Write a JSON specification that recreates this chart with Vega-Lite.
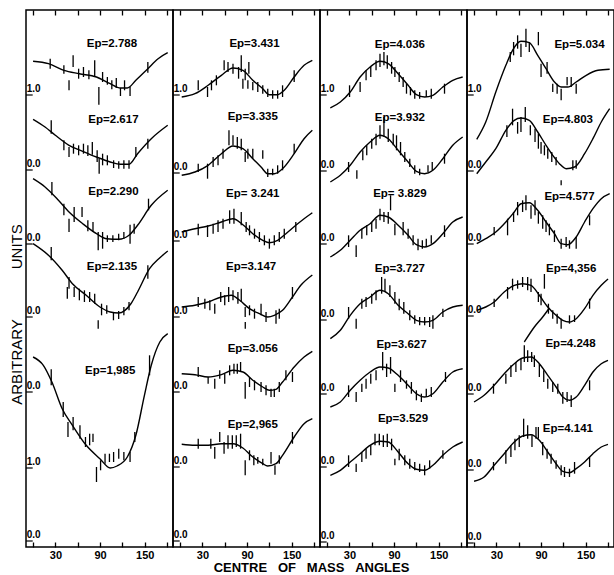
{
"$schema":"https://vega.github.io/schema/vega-lite/v6.json",
"padding":{"left":8,"top":8,"right":0,"bottom":0},
"spacing":0,
"bounds":"flush",
"background":"white",
"title":{"text":"CENTRE\u00a0\u00a0\u00a0OF\u00a0\u00a0\u00a0MASS\u00a0\u00a0\u00a0ANGLES","orient":"bottom","anchor":"middle","fontSize":13,"fontWeight":"bold","font":"Liberation Sans","offset":1,"color":"black"},
"datasets":{
"curves":[
{"p":1,"c":"2.788","x":0,"y":485.7},{"p":1,"c":"2.788","x":20.7,"y":483.3},{"p":1,"c":"2.788","x":41.4,"y":476.7},{"p":1,"c":"2.788","x":62.1,"y":473.3},{"p":1,"c":"2.788","x":85.2,"y":470},{"p":1,"c":"2.788","x":103.6,"y":463.3},{"p":1,"c":"2.788","x":117.4,"y":459},{"p":1,"c":"2.788","x":126.6,"y":459},{"p":1,"c":"2.788","x":138.1,"y":466.7},{"p":1,"c":"2.788","x":154.2,"y":478.3},{"p":1,"c":"2.788","x":168,"y":488.3},{"p":1,"c":"2.788","x":180.9,"y":494.3},
{"p":1,"c":"2.617","x":0,"y":427.7},{"p":1,"c":"2.617","x":16.1,"y":420},{"p":1,"c":"2.617","x":29.9,"y":411.7},{"p":1,"c":"2.617","x":48.3,"y":401.7},{"p":1,"c":"2.617","x":66.7,"y":395.7},{"p":1,"c":"2.617","x":85.2,"y":390},{"p":1,"c":"2.617","x":103.6,"y":385},{"p":1,"c":"2.617","x":117.4,"y":382.7},{"p":1,"c":"2.617","x":128.9,"y":382.7},{"p":1,"c":"2.617","x":140.4,"y":393.3},{"p":1,"c":"2.617","x":158.8,"y":408.3},{"p":1,"c":"2.617","x":180.9,"y":421.7},
{"p":1,"c":"2.290","x":0,"y":368.3},{"p":1,"c":"2.290","x":16.1,"y":360},{"p":1,"c":"2.290","x":32.2,"y":348.3},{"p":1,"c":"2.290","x":48.3,"y":335},{"p":1,"c":"2.290","x":66.7,"y":323.3},{"p":1,"c":"2.290","x":85.2,"y":313.3},{"p":1,"c":"2.290","x":99,"y":308.3},{"p":1,"c":"2.290","x":115.1,"y":307.7},{"p":1,"c":"2.290","x":128.9,"y":311.7},{"p":1,"c":"2.290","x":140.4,"y":321.7},{"p":1,"c":"2.290","x":158.8,"y":341.7},{"p":1,"c":"2.290","x":180.9,"y":356.7},
{"p":1,"c":"2.135","x":0,"y":303.3},{"p":1,"c":"2.135","x":20.7,"y":291.7},{"p":1,"c":"2.135","x":39.1,"y":276.7},{"p":1,"c":"2.135","x":52.9,"y":263.3},{"p":1,"c":"2.135","x":71.4,"y":251.7},{"p":1,"c":"2.135","x":89.8,"y":240},{"p":1,"c":"2.135","x":103.6,"y":235},{"p":1,"c":"2.135","x":115.1,"y":234},{"p":1,"c":"2.135","x":131.2,"y":243},{"p":1,"c":"2.135","x":140.4,"y":255},{"p":1,"c":"2.135","x":156.5,"y":278.3},{"p":1,"c":"2.135","x":170,"y":289},{"p":1,"c":"2.135","x":181,"y":296},
{"p":1,"c":"1.985","x":0,"y":190},{"p":1,"c":"1.985","x":13.8,"y":181.7},{"p":1,"c":"1.985","x":25.3,"y":165},{"p":1,"c":"1.985","x":39.1,"y":138.3},{"p":1,"c":"1.985","x":52.9,"y":121.7},{"p":1,"c":"1.985","x":71.4,"y":101.7},{"p":1,"c":"1.985","x":89.8,"y":88.3},{"p":1,"c":"1.985","x":103.6,"y":79},{"p":1,"c":"1.985","x":112.8,"y":81},{"p":1,"c":"1.985","x":126.6,"y":90},{"p":1,"c":"1.985","x":138.1,"y":111.7},{"p":1,"c":"1.985","x":149.6,"y":151.7},{"p":1,"c":"1.985","x":158.8,"y":181.7},{"p":1,"c":"1.985","x":170.3,"y":205},{"p":1,"c":"1.985","x":180.9,"y":213.3},
{"p":2,"c":"3.431","x":2.2,"y":450},{"p":2,"c":"3.431","x":20,"y":453.3},{"p":2,"c":"3.431","x":37.7,"y":461.7},{"p":2,"c":"3.431","x":55.5,"y":471.7},{"p":2,"c":"3.431","x":71.1,"y":479},{"p":2,"c":"3.431","x":84.4,"y":476.7},{"p":2,"c":"3.431","x":97.7,"y":466.7},{"p":2,"c":"3.431","x":111.1,"y":458.3},{"p":2,"c":"3.431","x":120,"y":452.3},{"p":2,"c":"3.431","x":131,"y":452.3},{"p":2,"c":"3.431","x":140,"y":456.7},{"p":2,"c":"3.431","x":153.3,"y":470},{"p":2,"c":"3.431","x":166.6,"y":481.7},{"p":2,"c":"3.431","x":177.7,"y":486.7},
{"p":2,"c":"3.335","x":2.2,"y":371.7},{"p":2,"c":"3.335","x":20,"y":375},{"p":2,"c":"3.335","x":37.7,"y":381.7},{"p":2,"c":"3.335","x":55.5,"y":393.3},{"p":2,"c":"3.335","x":71.1,"y":401},{"p":2,"c":"3.335","x":84.4,"y":398.3},{"p":2,"c":"3.335","x":97.7,"y":388.3},{"p":2,"c":"3.335","x":108.8,"y":380},{"p":2,"c":"3.335","x":117.7,"y":373.3},{"p":2,"c":"3.335","x":126.6,"y":373.3},{"p":2,"c":"3.335","x":137.7,"y":378.3},{"p":2,"c":"3.335","x":153.3,"y":393.3},{"p":2,"c":"3.335","x":166.6,"y":408.3},{"p":2,"c":"3.335","x":177.7,"y":416.7},
{"p":2,"c":"3.241","x":2.2,"y":315},{"p":2,"c":"3.241","x":20,"y":318.3},{"p":2,"c":"3.241","x":37.7,"y":321},{"p":2,"c":"3.241","x":55.5,"y":325},{"p":2,"c":"3.241","x":71.1,"y":328.3},{"p":2,"c":"3.241","x":84.4,"y":322.3},{"p":2,"c":"3.241","x":97.7,"y":313.3},{"p":2,"c":"3.241","x":111.1,"y":306.7},{"p":2,"c":"3.241","x":120,"y":304.3},{"p":2,"c":"3.241","x":131.1,"y":306.7},{"p":2,"c":"3.241","x":142.2,"y":313.3},{"p":2,"c":"3.241","x":155.5,"y":321.7},{"p":2,"c":"3.241","x":166.6,"y":328.3},{"p":2,"c":"3.241","x":177.7,"y":334.3},
{"p":2,"c":"3.147","x":2.2,"y":240},{"p":2,"c":"3.147","x":20,"y":241.7},{"p":2,"c":"3.147","x":37.7,"y":245},{"p":2,"c":"3.147","x":55.5,"y":250},{"p":2,"c":"3.147","x":68.8,"y":251.7},{"p":2,"c":"3.147","x":80,"y":246.7},{"p":2,"c":"3.147","x":93.3,"y":238.3},{"p":2,"c":"3.147","x":106.6,"y":233.3},{"p":2,"c":"3.147","x":117.7,"y":230},{"p":2,"c":"3.147","x":126.6,"y":231.7},{"p":2,"c":"3.147","x":137.7,"y":236.7},{"p":2,"c":"3.147","x":151,"y":250},{"p":2,"c":"3.147","x":162.2,"y":261.7},{"p":2,"c":"3.147","x":177.7,"y":272},
{"p":2,"c":"3.056","x":2.2,"y":173.3},{"p":2,"c":"3.056","x":20,"y":172.3},{"p":2,"c":"3.056","x":37.7,"y":170},{"p":2,"c":"3.056","x":55.5,"y":172.3},{"p":2,"c":"3.056","x":71.1,"y":176.7},{"p":2,"c":"3.056","x":84.4,"y":175},{"p":2,"c":"3.056","x":97.7,"y":166.7},{"p":2,"c":"3.056","x":111.1,"y":160},{"p":2,"c":"3.056","x":120,"y":156.7},{"p":2,"c":"3.056","x":128.9,"y":157.7},{"p":2,"c":"3.056","x":137.7,"y":165},{"p":2,"c":"3.056","x":153.3,"y":180},{"p":2,"c":"3.056","x":166.6,"y":190},{"p":2,"c":"3.056","x":177.7,"y":195.7},
{"p":2,"c":"2.965","x":2.2,"y":102.7},{"p":2,"c":"2.965","x":20,"y":101.7},{"p":2,"c":"2.965","x":37.7,"y":101.7},{"p":2,"c":"2.965","x":55.5,"y":103.3},{"p":2,"c":"2.965","x":71.1,"y":103.3},{"p":2,"c":"2.965","x":84.4,"y":99},{"p":2,"c":"2.965","x":97.7,"y":90},{"p":2,"c":"2.965","x":111.1,"y":83.3},{"p":2,"c":"2.965","x":117.7,"y":81},{"p":2,"c":"2.965","x":128.9,"y":83.3},{"p":2,"c":"2.965","x":137.7,"y":91.7},{"p":2,"c":"2.965","x":153.3,"y":110},{"p":2,"c":"2.965","x":166.6,"y":123.3},{"p":2,"c":"2.965","x":177.7,"y":128.3},
{"p":3,"c":"4.036","x":4.4,"y":439},{"p":3,"c":"4.036","x":17.8,"y":445},{"p":3,"c":"4.036","x":31.1,"y":455},{"p":3,"c":"4.036","x":44.4,"y":470},{"p":3,"c":"4.036","x":57.8,"y":480},{"p":3,"c":"4.036","x":71.1,"y":485.7},{"p":3,"c":"4.036","x":82.2,"y":483.3},{"p":3,"c":"4.036","x":95.5,"y":473.3},{"p":3,"c":"4.036","x":108.9,"y":461.7},{"p":3,"c":"4.036","x":120,"y":452.3},{"p":3,"c":"4.036","x":131.1,"y":450},{"p":3,"c":"4.036","x":142.2,"y":451.7},{"p":3,"c":"4.036","x":155.5,"y":460},{"p":3,"c":"4.036","x":168.9,"y":466.7},{"p":3,"c":"4.036","x":182.2,"y":470},
{"p":3,"c":"3.932","x":4.4,"y":365},{"p":3,"c":"3.932","x":17.8,"y":371.7},{"p":3,"c":"3.932","x":31.1,"y":381.7},{"p":3,"c":"3.932","x":44.4,"y":395},{"p":3,"c":"3.932","x":57.8,"y":405},{"p":3,"c":"3.932","x":71.1,"y":411.7},{"p":3,"c":"3.932","x":82.2,"y":408.3},{"p":3,"c":"3.932","x":95.5,"y":396.7},{"p":3,"c":"3.932","x":108.9,"y":385},{"p":3,"c":"3.932","x":120,"y":375.7},{"p":3,"c":"3.932","x":131.1,"y":373.3},{"p":3,"c":"3.932","x":142.2,"y":376.7},{"p":3,"c":"3.932","x":155.5,"y":388.3},{"p":3,"c":"3.932","x":168.9,"y":401.7},{"p":3,"c":"3.932","x":182.2,"y":410},
{"p":3,"c":"3.829","x":4.4,"y":290},{"p":3,"c":"3.829","x":17.8,"y":296.7},{"p":3,"c":"3.829","x":31.1,"y":306.7},{"p":3,"c":"3.829","x":44.4,"y":316.7},{"p":3,"c":"3.829","x":57.8,"y":323.3},{"p":3,"c":"3.829","x":71.1,"y":331.7},{"p":3,"c":"3.829","x":82.2,"y":330},{"p":3,"c":"3.829","x":95.5,"y":321.7},{"p":3,"c":"3.829","x":108.9,"y":311.7},{"p":3,"c":"3.829","x":120,"y":302.3},{"p":3,"c":"3.829","x":131.1,"y":300},{"p":3,"c":"3.829","x":142.2,"y":303.3},{"p":3,"c":"3.829","x":155.5,"y":313.3},{"p":3,"c":"3.829","x":168.9,"y":325},{"p":3,"c":"3.829","x":182.2,"y":330},
{"p":3,"c":"3.727","x":4.4,"y":208.3},{"p":3,"c":"3.727","x":17.8,"y":216.7},{"p":3,"c":"3.727","x":31.1,"y":231.7},{"p":3,"c":"3.727","x":44.4,"y":243.3},{"p":3,"c":"3.727","x":57.8,"y":250},{"p":3,"c":"3.727","x":71.1,"y":256.7},{"p":3,"c":"3.727","x":82.2,"y":253.3},{"p":3,"c":"3.727","x":95.5,"y":241.7},{"p":3,"c":"3.727","x":108.9,"y":233.3},{"p":3,"c":"3.727","x":120,"y":226.7},{"p":3,"c":"3.727","x":131.1,"y":225},{"p":3,"c":"3.727","x":142.2,"y":226.7},{"p":3,"c":"3.727","x":155.5,"y":235},{"p":3,"c":"3.727","x":168.9,"y":240},{"p":3,"c":"3.727","x":182.2,"y":241.7},
{"p":3,"c":"3.627","x":4.4,"y":140},{"p":3,"c":"3.627","x":17.8,"y":145},{"p":3,"c":"3.627","x":31.1,"y":156.7},{"p":3,"c":"3.627","x":44.4,"y":166.7},{"p":3,"c":"3.627","x":57.8,"y":175},{"p":3,"c":"3.627","x":71.1,"y":180},{"p":3,"c":"3.627","x":82.2,"y":179},{"p":3,"c":"3.627","x":95.5,"y":171.7},{"p":3,"c":"3.627","x":108.9,"y":161.7},{"p":3,"c":"3.627","x":120,"y":153.3},{"p":3,"c":"3.627","x":131.1,"y":150},{"p":3,"c":"3.627","x":142.2,"y":153.3},{"p":3,"c":"3.627","x":155.5,"y":165},{"p":3,"c":"3.627","x":168.9,"y":175},{"p":3,"c":"3.627","x":182.2,"y":178.3},
{"p":3,"c":"3.529","x":4.4,"y":71.7},{"p":3,"c":"3.529","x":17.8,"y":76.7},{"p":3,"c":"3.529","x":31.1,"y":85},{"p":3,"c":"3.529","x":44.4,"y":93.3},{"p":3,"c":"3.529","x":57.8,"y":101.7},{"p":3,"c":"3.529","x":71.1,"y":105.7},{"p":3,"c":"3.529","x":82.2,"y":105},{"p":3,"c":"3.529","x":95.5,"y":95},{"p":3,"c":"3.529","x":108.9,"y":83.3},{"p":3,"c":"3.529","x":120,"y":77.7},{"p":3,"c":"3.529","x":131.1,"y":76.7},{"p":3,"c":"3.529","x":142.2,"y":81.7},{"p":3,"c":"3.529","x":155.5,"y":91.7},{"p":3,"c":"3.529","x":168.9,"y":100},{"p":3,"c":"3.529","x":182.2,"y":105},
{"p":4,"c":"5.034","x":3.6,"y":407.7},{"p":4,"c":"5.034","x":15.7,"y":425},{"p":4,"c":"5.034","x":29.2,"y":455},{"p":4,"c":"5.034","x":42.7,"y":481.7},{"p":4,"c":"5.034","x":51.7,"y":496.7},{"p":4,"c":"5.034","x":63,"y":505.7},{"p":4,"c":"5.034","x":74.2,"y":504.3},{"p":4,"c":"5.034","x":85.5,"y":491.7},{"p":4,"c":"5.034","x":96.7,"y":478.3},{"p":4,"c":"5.034","x":108,"y":465},{"p":4,"c":"5.034","x":117,"y":460},{"p":4,"c":"5.034","x":126,"y":460},{"p":4,"c":"5.034","x":137.2,"y":465},{"p":4,"c":"5.034","x":150.7,"y":471.7},{"p":4,"c":"5.034","x":166.5,"y":476.7},{"p":4,"c":"5.034","x":182.2,"y":477.7},
{"p":4,"c":"4.803","x":3.6,"y":373.3},{"p":4,"c":"4.803","x":15.7,"y":385},{"p":4,"c":"4.803","x":29.2,"y":398.3},{"p":4,"c":"4.803","x":42.7,"y":416.7},{"p":4,"c":"4.803","x":54,"y":426.7},{"p":4,"c":"4.803","x":63,"y":429},{"p":4,"c":"4.803","x":74.2,"y":426.7},{"p":4,"c":"4.803","x":85.5,"y":415},{"p":4,"c":"4.803","x":96.7,"y":401.7},{"p":4,"c":"4.803","x":105.7,"y":391.7},{"p":4,"c":"4.803","x":114.7,"y":383.3},{"p":4,"c":"4.803","x":123.7,"y":378.3},{"p":4,"c":"4.803","x":135,"y":380},{"p":4,"c":"4.803","x":148.5,"y":393.3},{"p":4,"c":"4.803","x":159.7,"y":408.3},{"p":4,"c":"4.803","x":170.9,"y":425},{"p":4,"c":"4.803","x":182.2,"y":438.3},
{"p":4,"c":"4.577","x":3.6,"y":303.3},{"p":4,"c":"4.577","x":15.7,"y":308.3},{"p":4,"c":"4.577","x":29.2,"y":315},{"p":4,"c":"4.577","x":42.7,"y":325},{"p":4,"c":"4.577","x":54,"y":335},{"p":4,"c":"4.577","x":63,"y":343.3},{"p":4,"c":"4.577","x":74.2,"y":344.3},{"p":4,"c":"4.577","x":85.5,"y":336.7},{"p":4,"c":"4.577","x":96.7,"y":325},{"p":4,"c":"4.577","x":108,"y":313.3},{"p":4,"c":"4.577","x":117,"y":303.3},{"p":4,"c":"4.577","x":126,"y":302.3},{"p":4,"c":"4.577","x":137.2,"y":310},{"p":4,"c":"4.577","x":148.5,"y":325},{"p":4,"c":"4.577","x":159.7,"y":338.3},{"p":4,"c":"4.577","x":170.9,"y":348.3},{"p":4,"c":"4.577","x":182.2,"y":353.3},
{"p":4,"c":"4.356","x":3.6,"y":236.7},{"p":4,"c":"4.356","x":15.7,"y":240},{"p":4,"c":"4.356","x":27,"y":245},{"p":4,"c":"4.356","x":40.5,"y":255},{"p":4,"c":"4.356","x":54,"y":261.7},{"p":4,"c":"4.356","x":65.2,"y":263.3},{"p":4,"c":"4.356","x":76.5,"y":261.7},{"p":4,"c":"4.356","x":87.7,"y":251.7},{"p":4,"c":"4.356","x":99,"y":240},{"p":4,"c":"4.356","x":110.2,"y":231.7},{"p":4,"c":"4.356","x":119.2,"y":226.7},{"p":4,"c":"4.356","x":128.2,"y":225},{"p":4,"c":"4.356","x":137.2,"y":228.3},{"p":4,"c":"4.356","x":148.5,"y":238.3},{"p":4,"c":"4.356","x":159.7,"y":251.7},{"p":4,"c":"4.356","x":170.9,"y":261.7},{"p":4,"c":"4.356","x":180,"y":268},
{"p":4,"c":"4.356b","x":67.5,"y":205},{"p":4,"c":"4.356b","x":81,"y":220},{"p":4,"c":"4.356b","x":92.2,"y":230},{"p":4,"c":"4.356b","x":101.2,"y":239},
{"p":4,"c":"4.248","x":0,"y":145},{"p":4,"c":"4.248","x":13.5,"y":151.7},{"p":4,"c":"4.248","x":27,"y":161.7},{"p":4,"c":"4.248","x":40.5,"y":173.3},{"p":4,"c":"4.248","x":54,"y":183.3},{"p":4,"c":"4.248","x":65.2,"y":189},{"p":4,"c":"4.248","x":76.5,"y":190},{"p":4,"c":"4.248","x":87.7,"y":183.3},{"p":4,"c":"4.248","x":99,"y":171.7},{"p":4,"c":"4.248","x":110.2,"y":160},{"p":4,"c":"4.248","x":119.2,"y":150},{"p":4,"c":"4.248","x":128.2,"y":146.7},{"p":4,"c":"4.248","x":137.2,"y":150},{"p":4,"c":"4.248","x":148.5,"y":161.7},{"p":4,"c":"4.248","x":159.7,"y":175},{"p":4,"c":"4.248","x":170.9,"y":183.3},{"p":4,"c":"4.248","x":179.9,"y":186.7},
{"p":4,"c":"4.141","x":0,"y":65.7},{"p":4,"c":"4.141","x":13.5,"y":70},{"p":4,"c":"4.141","x":27,"y":81.7},{"p":4,"c":"4.141","x":40.5,"y":93.3},{"p":4,"c":"4.141","x":54,"y":105},{"p":4,"c":"4.141","x":65.2,"y":111},{"p":4,"c":"4.141","x":76.5,"y":112.3},{"p":4,"c":"4.141","x":87.7,"y":106.7},{"p":4,"c":"4.141","x":99,"y":95},{"p":4,"c":"4.141","x":110.2,"y":83.3},{"p":4,"c":"4.141","x":119.2,"y":75.7},{"p":4,"c":"4.141","x":128.2,"y":74.3},{"p":4,"c":"4.141","x":137.2,"y":78.3},{"p":4,"c":"4.141","x":148.5,"y":85},{"p":4,"c":"4.141","x":159.7,"y":93.3},{"p":4,"c":"4.141","x":170.9,"y":100},{"p":4,"c":"4.141","x":179.9,"y":102.7}
],
"bars":[
{"p":1,"x":23,"lo":478.3,"hi":488.3},{"p":1,"x":41.4,"lo":473.3,"hi":481.7},{"p":1,"x":48.3,"lo":456.7,"hi":466.7},{"p":1,"x":53.8,"lo":480,"hi":491.7},{"p":1,"x":61.2,"lo":468.3,"hi":478.3},{"p":1,"x":67.7,"lo":470,"hi":480},{"p":1,"x":75,"lo":467.7,"hi":476.7},{"p":1,"x":82.8,"lo":471,"hi":486.7},{"p":1,"x":88.4,"lo":442.3,"hi":460},{"p":1,"x":93.4,"lo":465,"hi":475},{"p":1,"x":99.8,"lo":462.3,"hi":470},{"p":1,"x":105.8,"lo":457.7,"hi":466.7},{"p":1,"x":111.8,"lo":459,"hi":469},{"p":1,"x":117.4,"lo":451,"hi":459},{"p":1,"x":122.9,"lo":456.7,"hi":466.7},{"p":1,"x":130.3,"lo":451,"hi":460},{"p":1,"x":154.2,"lo":474.3,"hi":485},
{"p":1,"x":24.4,"lo":413.3,"hi":426.7},{"p":1,"x":41.4,"lo":396.7,"hi":406.7},{"p":1,"x":48.3,"lo":390,"hi":400},{"p":1,"x":54.3,"lo":393.3,"hi":403.3},{"p":1,"x":61.2,"lo":391.7,"hi":401.7},{"p":1,"x":67.7,"lo":393.3,"hi":403.3},{"p":1,"x":73.6,"lo":391,"hi":401.7},{"p":1,"x":79.6,"lo":392.3,"hi":405},{"p":1,"x":86.1,"lo":385,"hi":396.7},{"p":1,"x":88.8,"lo":373.3,"hi":388.3},{"p":1,"x":93.4,"lo":381.7,"hi":393.3},{"p":1,"x":99.8,"lo":381.7,"hi":391.7},{"p":1,"x":108.2,"lo":379,"hi":386.7},{"p":1,"x":115.1,"lo":378.3,"hi":385.7},{"p":1,"x":122,"lo":378.3,"hi":386.7},{"p":1,"x":128.9,"lo":378.3,"hi":386.7},{"p":1,"x":138.1,"lo":390,"hi":400},{"p":1,"x":154.2,"lo":398.3,"hi":408.3},
{"p":1,"x":25.3,"lo":351.7,"hi":365},{"p":1,"x":41.4,"lo":331.7,"hi":343.3},{"p":1,"x":48.3,"lo":315,"hi":328.3},{"p":1,"x":55.2,"lo":325,"hi":340},{"p":1,"x":65.8,"lo":330,"hi":340},{"p":1,"x":73.6,"lo":315.7,"hi":326.7},{"p":1,"x":80.5,"lo":315,"hi":325},{"p":1,"x":87.5,"lo":296.7,"hi":315},{"p":1,"x":93.4,"lo":298.3,"hi":315},{"p":1,"x":99.8,"lo":305,"hi":311.7},{"p":1,"x":107.2,"lo":305,"hi":311.7},{"p":1,"x":115,"lo":306.7,"hi":313.3},{"p":1,"x":122,"lo":308.3,"hi":315},{"p":1,"x":130.3,"lo":303.3,"hi":322.3},{"p":1,"x":135.8,"lo":313.3,"hi":323.3},{"p":1,"x":155.1,"lo":336.7,"hi":348.3},
{"p":1,"x":24.4,"lo":286.7,"hi":300},{"p":1,"x":46,"lo":248.3,"hi":260},{"p":1,"x":48.3,"lo":258.3,"hi":270},{"p":1,"x":55.2,"lo":250,"hi":260},{"p":1,"x":62.2,"lo":246.7,"hi":258.3},{"p":1,"x":69,"lo":245,"hi":256.7},{"p":1,"x":76,"lo":245,"hi":255},{"p":1,"x":82.8,"lo":243.3,"hi":253.3},{"p":1,"x":87.5,"lo":218.3,"hi":226.7},{"p":1,"x":92,"lo":231.7,"hi":243.3},{"p":1,"x":99,"lo":233.3,"hi":241.7},{"p":1,"x":108,"lo":226.7,"hi":235},{"p":1,"x":115,"lo":228,"hi":236},{"p":1,"x":122,"lo":231.7,"hi":240},{"p":1,"x":128.9,"lo":236.7,"hi":245},{"p":1,"x":154.2,"lo":268.3,"hi":281.7},
{"p":1,"x":24.4,"lo":161.7,"hi":177.7},{"p":1,"x":40.5,"lo":130,"hi":145},{"p":1,"x":46.9,"lo":110,"hi":125},{"p":1,"x":53.8,"lo":116.7,"hi":130},{"p":1,"x":63,"lo":108.3,"hi":121.7},{"p":1,"x":70.4,"lo":100,"hi":110},{"p":1,"x":76,"lo":101.7,"hi":113.3},{"p":1,"x":80.5,"lo":105,"hi":113.3},{"p":1,"x":85.2,"lo":65,"hi":80},{"p":1,"x":90.7,"lo":76.7,"hi":86.7},{"p":1,"x":96.7,"lo":83.3,"hi":93.3},{"p":1,"x":102.6,"lo":85,"hi":93.3},{"p":1,"x":108.2,"lo":85,"hi":95},{"p":1,"x":115.1,"lo":88.3,"hi":98.3},{"p":1,"x":122,"lo":86.7,"hi":95},{"p":1,"x":130.3,"lo":85,"hi":95},{"p":1,"x":136.7,"lo":105,"hi":115},{"p":1,"x":156.5,"lo":171.7,"hi":191.7},
{"p":2,"x":24.4,"lo":456.7,"hi":466.7},{"p":2,"x":36.9,"lo":450,"hi":460},{"p":2,"x":42.2,"lo":456.7,"hi":466.7},{"p":2,"x":48.8,"lo":461.7,"hi":471.7},{"p":2,"x":59.2,"lo":476.7,"hi":486.7},{"p":2,"x":64.4,"lo":475,"hi":485},{"p":2,"x":71.1,"lo":473.3,"hi":483.3},{"p":2,"x":78.6,"lo":468.3,"hi":480},{"p":2,"x":82.2,"lo":475,"hi":491.7},{"p":2,"x":84.4,"lo":458.3,"hi":468.3},{"p":2,"x":87.5,"lo":466.7,"hi":478.3},{"p":2,"x":91.1,"lo":458.3,"hi":466.7},{"p":2,"x":92.4,"lo":473.3,"hi":485},{"p":2,"x":97.7,"lo":456.7,"hi":465},{"p":2,"x":104.4,"lo":455,"hi":465},{"p":2,"x":111.1,"lo":453.3,"hi":461.7},{"p":2,"x":117.8,"lo":450,"hi":458.3},{"p":2,"x":124.4,"lo":448.3,"hi":456.7},{"p":2,"x":131.1,"lo":448.3,"hi":456.7},{"p":2,"x":137.7,"lo":450,"hi":461.7},{"p":2,"x":153.3,"lo":465,"hi":476.7},
{"p":2,"x":24.4,"lo":375,"hi":383.3},{"p":2,"x":36.9,"lo":368.3,"hi":383.3},{"p":2,"x":44.4,"lo":380,"hi":390},{"p":2,"x":51,"lo":381.7,"hi":391.7},{"p":2,"x":57.7,"lo":388.3,"hi":398.3},{"p":2,"x":65.7,"lo":401.7,"hi":416.7},{"p":2,"x":71.1,"lo":401.7,"hi":411.7},{"p":2,"x":76.9,"lo":398.3,"hi":410},{"p":2,"x":82.2,"lo":396.7,"hi":408.3},{"p":2,"x":87.5,"lo":385,"hi":395},{"p":2,"x":91.1,"lo":388.3,"hi":398.3},{"p":2,"x":97.7,"lo":388.3,"hi":398.3},{"p":2,"x":111.1,"lo":388.3,"hi":396.7},{"p":2,"x":117.8,"lo":370,"hi":378.3},{"p":2,"x":124.4,"lo":371.7,"hi":378.3},{"p":2,"x":131.1,"lo":373.3,"hi":381.7},{"p":2,"x":137.7,"lo":376.7,"hi":386.7},{"p":2,"x":153.3,"lo":393.3,"hi":403.3},
{"p":2,"x":24.4,"lo":311.7,"hi":323.3},{"p":2,"x":36.9,"lo":310,"hi":321.7},{"p":2,"x":44.4,"lo":313.3,"hi":323.3},{"p":2,"x":51,"lo":315,"hi":326.7},{"p":2,"x":57.7,"lo":318.3,"hi":328.3},{"p":2,"x":66.6,"lo":323.3,"hi":336.7},{"p":2,"x":72.4,"lo":323.3,"hi":338.3},{"p":2,"x":82.2,"lo":321.7,"hi":335},{"p":2,"x":88.8,"lo":315,"hi":325},{"p":2,"x":93.3,"lo":311.7,"hi":321.7},{"p":2,"x":100,"lo":308.3,"hi":318.3},{"p":2,"x":106.6,"lo":305,"hi":315},{"p":2,"x":113.3,"lo":301.7,"hi":311.7},{"p":2,"x":120,"lo":298.3,"hi":308.3},{"p":2,"x":126.6,"lo":301.7,"hi":311.7},{"p":2,"x":133.3,"lo":305,"hi":315},{"p":2,"x":140,"lo":308.3,"hi":318.3},{"p":2,"x":155.5,"lo":315,"hi":325},
{"p":2,"x":24.4,"lo":240,"hi":250},{"p":2,"x":33.3,"lo":238.3,"hi":248.3},{"p":2,"x":40,"lo":236.7,"hi":246.7},{"p":2,"x":46.6,"lo":233.3,"hi":243.3},{"p":2,"x":54.6,"lo":245,"hi":255},{"p":2,"x":60,"lo":241.7,"hi":251.7},{"p":2,"x":65.3,"lo":245,"hi":260},{"p":2,"x":71.1,"lo":246.7,"hi":256.7},{"p":2,"x":77.7,"lo":243.3,"hi":255},{"p":2,"x":82.2,"lo":245,"hi":258.3},{"p":2,"x":87.5,"lo":230,"hi":240},{"p":2,"x":87.6,"lo":218.3,"hi":225},{"p":2,"x":93.3,"lo":231.7,"hi":241.7},{"p":2,"x":100,"lo":228.3,"hi":238.3},{"p":2,"x":108.8,"lo":231.7,"hi":243.3},{"p":2,"x":115.5,"lo":225,"hi":235},{"p":2,"x":128.9,"lo":223.3,"hi":236.7},{"p":2,"x":133.3,"lo":228.3,"hi":238.3},{"p":2,"x":151,"lo":248.3,"hi":260},
{"p":2,"x":24.4,"lo":170,"hi":180},{"p":2,"x":37.7,"lo":163.3,"hi":170},{"p":2,"x":46.6,"lo":158.3,"hi":168.3},{"p":2,"x":53.3,"lo":168.3,"hi":176.7},{"p":2,"x":60,"lo":163.3,"hi":173.3},{"p":2,"x":66.6,"lo":171.7,"hi":181.7},{"p":2,"x":72.4,"lo":173.3,"hi":183.3},{"p":2,"x":76.9,"lo":173.3,"hi":183.3},{"p":2,"x":81.3,"lo":175,"hi":185},{"p":2,"x":87.5,"lo":148.3,"hi":165},{"p":2,"x":93.3,"lo":160,"hi":170},{"p":2,"x":100,"lo":156.7,"hi":166.7},{"p":2,"x":108.8,"lo":155,"hi":165},{"p":2,"x":115.5,"lo":151.7,"hi":161.7},{"p":2,"x":122.2,"lo":150,"hi":158.3},{"p":2,"x":126.6,"lo":150,"hi":158.3},{"p":2,"x":133.3,"lo":155,"hi":165},{"p":2,"x":142.2,"lo":166.7,"hi":176.7},{"p":2,"x":151,"lo":165,"hi":175},
{"p":2,"x":24.4,"lo":98.3,"hi":108.3},{"p":2,"x":41.3,"lo":98.3,"hi":108.3},{"p":2,"x":46.6,"lo":88.3,"hi":100},{"p":2,"x":53.3,"lo":105,"hi":115},{"p":2,"x":59.1,"lo":93.3,"hi":105},{"p":2,"x":64.4,"lo":98.3,"hi":111.7},{"p":2,"x":70.2,"lo":98.3,"hi":111.7},{"p":2,"x":75.5,"lo":100,"hi":111.7},{"p":2,"x":81.3,"lo":98.3,"hi":113.3},{"p":2,"x":87.5,"lo":71.7,"hi":86.7},{"p":2,"x":93.3,"lo":86.7,"hi":96.7},{"p":2,"x":99.1,"lo":81.7,"hi":91.7},{"p":2,"x":104.4,"lo":83.3,"hi":90},{"p":2,"x":111.1,"lo":81.7,"hi":88.3},{"p":2,"x":122.2,"lo":83.3,"hi":95},{"p":2,"x":127.5,"lo":72.3,"hi":81.7},{"p":2,"x":133.3,"lo":83.3,"hi":91.7},{"p":2,"x":151,"lo":103.3,"hi":115},
{"p":3,"x":30.2,"lo":450,"hi":461.7},{"p":3,"x":44.4,"lo":455,"hi":465},{"p":3,"x":52.4,"lo":466.7,"hi":476.7},{"p":3,"x":58.7,"lo":470,"hi":480},{"p":3,"x":65.8,"lo":476.7,"hi":486.7},{"p":3,"x":71.1,"lo":480,"hi":493.3},{"p":3,"x":76.4,"lo":481.7,"hi":495},{"p":3,"x":80.9,"lo":478.3,"hi":491.7},{"p":3,"x":86.7,"lo":473.3,"hi":485},{"p":3,"x":91.1,"lo":470,"hi":480},{"p":3,"x":96.9,"lo":465,"hi":475},{"p":3,"x":102.2,"lo":460,"hi":470},{"p":3,"x":106.7,"lo":453.3,"hi":463.3},{"p":3,"x":112,"lo":451.7,"hi":460},{"p":3,"x":117.8,"lo":448.3,"hi":456.7},{"p":3,"x":124.4,"lo":448.3,"hi":455},{"p":3,"x":133.3,"lo":450,"hi":456.7},{"p":3,"x":140,"lo":448.3,"hi":458.3},{"p":3,"x":157.8,"lo":453.3,"hi":463.3},
{"p":3,"x":28.9,"lo":375,"hi":385},{"p":3,"x":40,"lo":368.3,"hi":376.7},{"p":3,"x":48,"lo":386.7,"hi":396.7},{"p":3,"x":53.3,"lo":391.7,"hi":401.7},{"p":3,"x":60,"lo":398.3,"hi":408.3},{"p":3,"x":65.8,"lo":401.7,"hi":413.3},{"p":3,"x":71.1,"lo":408.3,"hi":421.7},{"p":3,"x":76.4,"lo":410,"hi":430},{"p":3,"x":82.2,"lo":405,"hi":418.3},{"p":3,"x":88.9,"lo":401.7,"hi":413.3},{"p":3,"x":93.3,"lo":396.7,"hi":411.7},{"p":3,"x":98.7,"lo":391.7,"hi":405},{"p":3,"x":104.4,"lo":385,"hi":395},{"p":3,"x":111.1,"lo":380,"hi":388.3},{"p":3,"x":117.8,"lo":373.3,"hi":381.7},{"p":3,"x":124.4,"lo":371.7,"hi":378.3},{"p":3,"x":135.6,"lo":375,"hi":381.7},{"p":3,"x":141.3,"lo":376.7,"hi":385},{"p":3,"x":157.8,"lo":383.3,"hi":393.3},
{"p":3,"x":28.9,"lo":300,"hi":311.7},{"p":3,"x":39.1,"lo":290,"hi":301.7},{"p":3,"x":46.7,"lo":308.3,"hi":318.3},{"p":3,"x":53.3,"lo":311.7,"hi":321.7},{"p":3,"x":60,"lo":315,"hi":325},{"p":3,"x":65.8,"lo":318.3,"hi":328.3},{"p":3,"x":71.1,"lo":326.7,"hi":338.3},{"p":3,"x":76.4,"lo":325,"hi":335},{"p":3,"x":82.2,"lo":323.3,"hi":335},{"p":3,"x":85.3,"lo":336.7,"hi":351.7},{"p":3,"x":91.1,"lo":311.7,"hi":323.3},{"p":3,"x":102.2,"lo":311.7,"hi":325},{"p":3,"x":108.9,"lo":308.3,"hi":318.3},{"p":3,"x":115.6,"lo":301.7,"hi":311.7},{"p":3,"x":122.2,"lo":296.7,"hi":308.3},{"p":3,"x":128,"lo":298.3,"hi":306.7},{"p":3,"x":133.3,"lo":300,"hi":308.3},{"p":3,"x":140,"lo":303.3,"hi":311.7},{"p":3,"x":157.8,"lo":310,"hi":321.7},
{"p":3,"x":28.9,"lo":228.3,"hi":240},{"p":3,"x":39.1,"lo":218.3,"hi":228.3},{"p":3,"x":46.7,"lo":238.3,"hi":248.3},{"p":3,"x":52.4,"lo":240,"hi":250},{"p":3,"x":60,"lo":243.3,"hi":253.3},{"p":3,"x":65.8,"lo":246.7,"hi":256.7},{"p":3,"x":73.3,"lo":253.3,"hi":270},{"p":3,"x":77.8,"lo":255,"hi":268.3},{"p":3,"x":84.4,"lo":250,"hi":261.7},{"p":3,"x":91.1,"lo":243.3,"hi":255},{"p":3,"x":96.9,"lo":236.7,"hi":248.3},{"p":3,"x":103.1,"lo":233.3,"hi":245},{"p":3,"x":111.1,"lo":226.7,"hi":236.7},{"p":3,"x":117.8,"lo":223.3,"hi":231.7},{"p":3,"x":124.4,"lo":221.7,"hi":230},{"p":3,"x":131.1,"lo":221.7,"hi":230},{"p":3,"x":137.8,"lo":220,"hi":230},{"p":3,"x":142.2,"lo":218.3,"hi":231.7},{"p":3,"x":155.6,"lo":230,"hi":238.3},
{"p":3,"x":28.9,"lo":150,"hi":161.7},{"p":3,"x":39.1,"lo":145,"hi":155},{"p":3,"x":46.7,"lo":155,"hi":163.3},{"p":3,"x":52.4,"lo":158.3,"hi":168.3},{"p":3,"x":58.7,"lo":163.3,"hi":173.3},{"p":3,"x":65.8,"lo":166.7,"hi":176.7},{"p":3,"x":74.7,"lo":176.7,"hi":195},{"p":3,"x":80,"lo":170,"hi":183.3},{"p":3,"x":85.3,"lo":173.3,"hi":190},{"p":3,"x":91.1,"lo":155,"hi":163.3},{"p":3,"x":98.7,"lo":165,"hi":176.7},{"p":3,"x":106.7,"lo":158.3,"hi":166.7},{"p":3,"x":113.3,"lo":153.3,"hi":165},{"p":3,"x":120,"lo":146.7,"hi":156.7},{"p":3,"x":126.7,"lo":145,"hi":153.3},{"p":3,"x":133.3,"lo":150,"hi":158.3},{"p":3,"x":140,"lo":150,"hi":160},{"p":3,"x":159.1,"lo":165,"hi":175},
{"p":3,"x":28.9,"lo":80,"hi":91.7},{"p":3,"x":39.1,"lo":75,"hi":83.3},{"p":3,"x":46.7,"lo":85,"hi":95},{"p":3,"x":52.4,"lo":88.3,"hi":98.3},{"p":3,"x":58.7,"lo":91.7,"hi":101.7},{"p":3,"x":64.4,"lo":101.7,"hi":113.3},{"p":3,"x":70.2,"lo":101.7,"hi":113.3},{"p":3,"x":75.6,"lo":100,"hi":111.7},{"p":3,"x":80.9,"lo":100,"hi":113.3},{"p":3,"x":86.7,"lo":96.7,"hi":108.3},{"p":3,"x":91.1,"lo":81.7,"hi":88.3},{"p":3,"x":96.9,"lo":86.7,"hi":98.3},{"p":3,"x":104.4,"lo":81.7,"hi":91.7},{"p":3,"x":111.1,"lo":78.3,"hi":88.3},{"p":3,"x":117.8,"lo":76.7,"hi":85},{"p":3,"x":124.4,"lo":75,"hi":83.3},{"p":3,"x":131.1,"lo":71.7,"hi":81.7},{"p":3,"x":137.8,"lo":78.3,"hi":86.7},{"p":3,"x":155.6,"lo":88.3,"hi":96.7},
{"p":4,"x":48.6,"lo":485,"hi":495},{"p":4,"x":53.1,"lo":491.7,"hi":505},{"p":4,"x":58.5,"lo":498.3,"hi":511.7},{"p":4,"x":63,"lo":490,"hi":503.3},{"p":4,"x":69.7,"lo":500,"hi":518.3},{"p":4,"x":74.2,"lo":495,"hi":505},{"p":4,"x":86.4,"lo":501.7,"hi":515},{"p":4,"x":90,"lo":470,"hi":483.3},{"p":4,"x":98.1,"lo":473.3,"hi":485},{"p":4,"x":105.7,"lo":455,"hi":463.3},{"p":4,"x":111.6,"lo":453.3,"hi":463.3},{"p":4,"x":117,"lo":446.7,"hi":458.3},{"p":4,"x":125,"lo":461.7,"hi":470},{"p":4,"x":130.5,"lo":460,"hi":470},{"p":4,"x":137.2,"lo":453.3,"hi":463.3},
{"p":4,"x":44.1,"lo":410,"hi":421.7},{"p":4,"x":51.7,"lo":421.7,"hi":438.3},{"p":4,"x":58.5,"lo":413.3,"hi":425},{"p":4,"x":63,"lo":415,"hi":430},{"p":4,"x":68.8,"lo":425,"hi":440},{"p":4,"x":75.6,"lo":411.7,"hi":421.7},{"p":4,"x":81.9,"lo":405,"hi":418.3},{"p":4,"x":86.4,"lo":398.3,"hi":413.3},{"p":4,"x":90,"lo":393.3,"hi":405},{"p":4,"x":94.5,"lo":391.7,"hi":401.7},{"p":4,"x":99,"lo":388.3,"hi":398.3},{"p":4,"x":104.4,"lo":385,"hi":395},{"p":4,"x":110.2,"lo":381.7,"hi":390},{"p":4,"x":117,"lo":361.7,"hi":366.7},{"p":4,"x":132.7,"lo":376.7,"hi":386.7},{"p":4,"x":137.2,"lo":378.3,"hi":386.7},
{"p":4,"x":27,"lo":311.7,"hi":320},{"p":4,"x":45,"lo":311.7,"hi":328.3},{"p":4,"x":53.1,"lo":325,"hi":335},{"p":4,"x":58.5,"lo":331.7,"hi":345},{"p":4,"x":65.2,"lo":335,"hi":346.7},{"p":4,"x":69.7,"lo":336.7,"hi":351.7},{"p":4,"x":76.5,"lo":328.3,"hi":341.7},{"p":4,"x":81.9,"lo":331.7,"hi":346.7},{"p":4,"x":86.4,"lo":323.3,"hi":335},{"p":4,"x":92.2,"lo":318.3,"hi":331.7},{"p":4,"x":96.7,"lo":315,"hi":326.7},{"p":4,"x":101.2,"lo":311.7,"hi":323.3},{"p":4,"x":108,"lo":305,"hi":316.7},{"p":4,"x":117,"lo":298.3,"hi":308.3},{"p":4,"x":123.7,"lo":300,"hi":310},{"p":4,"x":128.2,"lo":298.3,"hi":306.7},{"p":4,"x":137.2,"lo":298.3,"hi":310},{"p":4,"x":155.2,"lo":321.7,"hi":331.7},
{"p":4,"x":27,"lo":240,"hi":248.3},{"p":4,"x":45,"lo":248.3,"hi":260},{"p":4,"x":51.7,"lo":256.7,"hi":268.3},{"p":4,"x":58.5,"lo":258.3,"hi":266.7},{"p":4,"x":65.2,"lo":260,"hi":270},{"p":4,"x":72,"lo":256.7,"hi":270},{"p":4,"x":76.5,"lo":255,"hi":268.3},{"p":4,"x":86.4,"lo":245,"hi":255},{"p":4,"x":90,"lo":241.7,"hi":253.3},{"p":4,"x":94.5,"lo":258.3,"hi":273},{"p":4,"x":99.9,"lo":233.3,"hi":243.3},{"p":4,"x":105.7,"lo":228.3,"hi":236.7},{"p":4,"x":111.6,"lo":223.3,"hi":233.3},{"p":4,"x":117,"lo":218.3,"hi":228.3},{"p":4,"x":128.2,"lo":223.3,"hi":231.7},{"p":4,"x":135,"lo":225,"hi":231.7},{"p":4,"x":155.2,"lo":238.3,"hi":248.3},
{"p":4,"x":26.1,"lo":153.3,"hi":163.3},{"p":4,"x":42.7,"lo":163.3,"hi":173.3},{"p":4,"x":49.5,"lo":170,"hi":181.7},{"p":4,"x":56.2,"lo":175,"hi":185},{"p":4,"x":63,"lo":176.7,"hi":188.3},{"p":4,"x":67.5,"lo":185,"hi":201.7},{"p":4,"x":72,"lo":185,"hi":196.7},{"p":4,"x":77.4,"lo":185,"hi":195},{"p":4,"x":81,"lo":180,"hi":191.7},{"p":4,"x":87.7,"lo":170,"hi":183.3},{"p":4,"x":93.6,"lo":165,"hi":176.7},{"p":4,"x":99,"lo":158.3,"hi":168.3},{"p":4,"x":105.7,"lo":155,"hi":165},{"p":4,"x":112.5,"lo":153.3,"hi":163.3},{"p":4,"x":119.2,"lo":143.3,"hi":155},{"p":4,"x":125,"lo":145,"hi":155},{"p":4,"x":130.5,"lo":140,"hi":151.7},{"p":4,"x":155.2,"lo":156.7,"hi":166.7},
{"p":4,"x":26.1,"lo":76.7,"hi":85},{"p":4,"x":42.7,"lo":83.3,"hi":96.7},{"p":4,"x":49.5,"lo":90,"hi":101.7},{"p":4,"x":54.9,"lo":96.7,"hi":108.3},{"p":4,"x":60.7,"lo":100,"hi":111.7},{"p":4,"x":66.6,"lo":110,"hi":128.3},{"p":4,"x":72,"lo":108.3,"hi":121.7},{"p":4,"x":77.8,"lo":100,"hi":111.7},{"p":4,"x":83.2,"lo":108.3,"hi":120},{"p":4,"x":86.4,"lo":108.3,"hi":120},{"p":4,"x":92.2,"lo":91.7,"hi":105},{"p":4,"x":98.1,"lo":88.3,"hi":98.3},{"p":4,"x":103.5,"lo":83.3,"hi":93.3},{"p":4,"x":110.2,"lo":78.3,"hi":86.7},{"p":4,"x":117,"lo":71.7,"hi":81.7},{"p":4,"x":121.5,"lo":70,"hi":80},{"p":4,"x":128.2,"lo":70,"hi":78.3},{"p":4,"x":135,"lo":73.3,"hi":85},{"p":4,"x":155.2,"lo":80,"hi":90}
],
"labels":[
{"p":1,"x":106,"y":503.3,"t":"Ep=2.788"},{"p":1,"x":108,"y":426.7,"t":"Ep=2.617"},{"p":1,"x":108,"y":355,"t":"Ep=2.290"},{"p":1,"x":106,"y":280,"t":"Ep=2.135"},{"p":1,"x":103.6,"y":175.7,"t":"Ep=1,985"},
{"p":2,"x":100,"y":503.3,"t":"Ep=3.431"},{"p":2,"x":97.7,"y":430,"t":"Ep=3.335"},{"p":2,"x":97.7,"y":353.3,"t":"Ep= 3.241"},{"p":2,"x":95.5,"y":280,"t":"Ep=3.147"},{"p":2,"x":97.7,"y":198.3,"t":"Ep=3.056"},{"p":2,"x":97.7,"y":122.3,"t":"Ep=2,965"},
{"p":3,"x":97.8,"y":501.7,"t":"Ep=4.036"},{"p":3,"x":97.8,"y":429,"t":"Ep=3.932"},{"p":3,"x":97.8,"y":353.3,"t":"Ep= 3.829"},{"p":3,"x":97.8,"y":278.3,"t":"Ep=3.727"},{"p":3,"x":100,"y":201.7,"t":"Ep=3.627"},{"p":3,"x":102,"y":128.3,"t":"Ep=3.529"},
{"p":4,"x":141.7,"y":502.3,"t":"Ep=5.034"},{"p":4,"x":126,"y":426.7,"t":"Ep=4.803"},{"p":4,"x":128.2,"y":350,"t":"Ep=4.577"},{"p":4,"x":130.5,"y":278.3,"t":"Ep=4,356"},{"p":4,"x":129.6,"y":203.3,"t":"Ep=4.248"},{"p":4,"x":126,"y":118.3,"t":"Ep=4.141"}
],
"levels":[
{"p":1,"y":458,"t":"1.0"},{"p":1,"y":383,"t":"0.0"},{"p":1,"y":309,"t":"0.0"},{"p":1,"y":236,"t":"0.0"},{"p":1,"y":161,"t":"0.0"},{"p":1,"y":85,"t":"1.0"},{"p":1,"y":12,"t":"0.0"},
{"p":2,"y":458,"t":"1.0"},{"p":2,"y":380,"t":"0.0"},{"p":2,"y":312,"t":"0.0"},{"p":2,"y":236,"t":"0.0"},{"p":2,"y":161,"t":"0.0"},{"p":2,"y":86,"t":"0.0"},{"p":2,"y":12,"t":"0.0"},
{"p":3,"y":458,"t":"1.0"},{"p":3,"y":382,"t":"0.0"},{"p":3,"y":309,"t":"0.0"},{"p":3,"y":233,"t":"0.0"},{"p":3,"y":159,"t":"0.0"},{"p":3,"y":86,"t":"0.0"},{"p":3,"y":11,"t":"0.0"},
{"p":4,"y":458,"t":"1.0"},{"p":4,"y":382,"t":"0.0"},{"p":4,"y":309,"t":"0.0"},{"p":4,"y":237,"t":"0.0"},{"p":4,"y":159,"t":"0.0"},{"p":4,"y":83,"t":"0.0"},{"p":4,"y":10,"t":"0.0"}
]
},
"hconcat":[
{"width":147,"height":537,"resolve":{"axis":{"x":"independent","y":"independent"}},"layer":[
{"data":{"name":"curves"},"transform":[{"filter":"datum.p==1"}],"mark":{"type":"line","interpolate":"monotone","color":"black","strokeWidth":1.4},
"encoding":{"x":{"field":"x","type":"quantitative","scale":{"domain":[-9.5,188],"nice":false,"zero":false},"axis":{"orient":"bottom","values":[0,30,60,90,120,150,180],"labelExpr":"(datum.value==30||datum.value==90||datum.value==150) ? datum.label : ''","tickSize":-5,"labelPadding":7,"labelFontSize":11,"labelFontWeight":"bold","title":null}},
"y":{"field":"y","type":"quantitative","scale":{"domain":[0,537],"nice":false,"zero":false},"axis":{"title":"ARBITRARY\u00a0\u00a0\u00a0\u00a0\u00a0\u00a0\u00a0\u00a0\u00a0\u00a0\u00a0\u00a0UNITS","labels":false,"ticks":false,"titleFontSize":15,"titleFontWeight":"normal","titlePadding":2,"titleY":304}},"detail":{"field":"c"}}},
{"data":{"name":"bars"},"transform":[{"filter":"datum.p==1"}],"mark":{"type":"rule","color":"black","strokeWidth":1.3},
"encoding":{"x":{"field":"x","type":"quantitative","scale":{"domain":[-9.5,188],"nice":false,"zero":false},"axis":{"orient":"top","values":[0,30,60,90,120,150,180],"labels":false,"tickSize":-5,"title":null}},"y":{"field":"lo","type":"quantitative","axis":null},"y2":{"field":"hi"}}},
{"data":{"name":"labels"},"transform":[{"filter":"datum.p==1"}],"mark":{"type":"text","fontSize":11.5,"fontWeight":"bold","font":"Liberation Sans"},
"encoding":{"x":{"field":"x","type":"quantitative","axis":null},"y":{"field":"y","type":"quantitative","axis":null},"text":{"field":"t"}}},
{"data":{"name":"levels"},"transform":[{"filter":"datum.p==1"}],"mark":{"type":"text","fontSize":10,"fontWeight":"bold","font":"Liberation Sans","align":"left","baseline":"middle"},
"encoding":{"x":{"datum":-8.5,"type":"quantitative","axis":null},"y":{"field":"y","type":"quantitative","axis":null},"text":{"field":"t"}}},
{"data":{"name":"levels"},"transform":[{"filter":"datum.p==1"}],"mark":{"type":"rule","color":"black","strokeWidth":1.2,"yOffset":6},
"encoding":{"x":{"datum":-9.5,"type":"quantitative","axis":null},"x2":{"datum":-0.5},"y":{"field":"y","type":"quantitative","axis":null}}}
]},
{"width":147,"height":537,"resolve":{"axis":{"x":"independent","y":"independent"}},"layer":[
{"data":{"name":"curves"},"transform":[{"filter":"datum.p==2"}],"mark":{"type":"line","interpolate":"monotone","color":"black","strokeWidth":1.4},
"encoding":{"x":{"field":"x","type":"quantitative","scale":{"domain":[-9.5,188],"nice":false,"zero":false},"axis":{"orient":"bottom","values":[0,30,60,90,120,150,180],"labelExpr":"(datum.value==30||datum.value==90||datum.value==150) ? datum.label : ''","tickSize":-5,"labelPadding":7,"labelFontSize":11,"labelFontWeight":"bold","title":null}},
"y":{"field":"y","type":"quantitative","scale":{"domain":[0,537],"nice":false,"zero":false},"axis":null},"detail":{"field":"c"}}},
{"data":{"name":"bars"},"transform":[{"filter":"datum.p==2"}],"mark":{"type":"rule","color":"black","strokeWidth":1.3},
"encoding":{"x":{"field":"x","type":"quantitative","scale":{"domain":[-9.5,188],"nice":false,"zero":false},"axis":{"orient":"top","values":[0,30,60,90,120,150,180],"labels":false,"tickSize":-5,"title":null}},"y":{"field":"lo","type":"quantitative","axis":null},"y2":{"field":"hi"}}},
{"data":{"name":"labels"},"transform":[{"filter":"datum.p==2"}],"mark":{"type":"text","fontSize":11.5,"fontWeight":"bold","font":"Liberation Sans"},
"encoding":{"x":{"field":"x","type":"quantitative","axis":null},"y":{"field":"y","type":"quantitative","axis":null},"text":{"field":"t"}}},
{"data":{"name":"levels"},"transform":[{"filter":"datum.p==2"}],"mark":{"type":"text","fontSize":10,"fontWeight":"bold","font":"Liberation Sans","align":"left","baseline":"middle"},
"encoding":{"x":{"datum":-8.5,"type":"quantitative","axis":null},"y":{"field":"y","type":"quantitative","axis":null},"text":{"field":"t"}}},
{"data":{"name":"levels"},"transform":[{"filter":"datum.p==2"}],"mark":{"type":"rule","color":"black","strokeWidth":1.2,"yOffset":6},
"encoding":{"x":{"datum":-9.5,"type":"quantitative","axis":null},"x2":{"datum":-0.5},"y":{"field":"y","type":"quantitative","axis":null}}}
]},
{"width":147,"height":537,"resolve":{"axis":{"x":"independent","y":"independent"}},"layer":[
{"data":{"name":"curves"},"transform":[{"filter":"datum.p==3"}],"mark":{"type":"line","interpolate":"monotone","color":"black","strokeWidth":1.4},
"encoding":{"x":{"field":"x","type":"quantitative","scale":{"domain":[-9.5,188],"nice":false,"zero":false},"axis":{"orient":"bottom","values":[0,30,60,90,120,150,180],"labelExpr":"(datum.value==30||datum.value==90||datum.value==150) ? datum.label : ''","tickSize":-5,"labelPadding":7,"labelFontSize":11,"labelFontWeight":"bold","title":null}},
"y":{"field":"y","type":"quantitative","scale":{"domain":[0,537],"nice":false,"zero":false},"axis":null},"detail":{"field":"c"}}},
{"data":{"name":"bars"},"transform":[{"filter":"datum.p==3"}],"mark":{"type":"rule","color":"black","strokeWidth":1.3},
"encoding":{"x":{"field":"x","type":"quantitative","scale":{"domain":[-9.5,188],"nice":false,"zero":false},"axis":{"orient":"top","values":[0,30,60,90,120,150,180],"labels":false,"tickSize":-5,"title":null}},"y":{"field":"lo","type":"quantitative","axis":null},"y2":{"field":"hi"}}},
{"data":{"name":"labels"},"transform":[{"filter":"datum.p==3"}],"mark":{"type":"text","fontSize":11.5,"fontWeight":"bold","font":"Liberation Sans"},
"encoding":{"x":{"field":"x","type":"quantitative","axis":null},"y":{"field":"y","type":"quantitative","axis":null},"text":{"field":"t"}}},
{"data":{"name":"levels"},"transform":[{"filter":"datum.p==3"}],"mark":{"type":"text","fontSize":10,"fontWeight":"bold","font":"Liberation Sans","align":"left","baseline":"middle"},
"encoding":{"x":{"datum":-8.5,"type":"quantitative","axis":null},"y":{"field":"y","type":"quantitative","axis":null},"text":{"field":"t"}}},
{"data":{"name":"levels"},"transform":[{"filter":"datum.p==3"}],"mark":{"type":"rule","color":"black","strokeWidth":1.2,"yOffset":6},
"encoding":{"x":{"datum":-9.5,"type":"quantitative","axis":null},"x2":{"datum":-0.5},"y":{"field":"y","type":"quantitative","axis":null}}}
]},
{"width":147,"height":537,"resolve":{"axis":{"x":"independent","y":"independent"}},"layer":[
{"data":{"name":"curves"},"transform":[{"filter":"datum.p==4"}],"mark":{"type":"line","interpolate":"monotone","color":"black","strokeWidth":1.4},
"encoding":{"x":{"field":"x","type":"quantitative","scale":{"domain":[-9.5,188],"nice":false,"zero":false},"axis":{"orient":"bottom","values":[0,30,60,90,120,150,180],"labelExpr":"(datum.value==30||datum.value==90||datum.value==150) ? datum.label : ''","tickSize":-5,"labelPadding":7,"labelFontSize":11,"labelFontWeight":"bold","title":null}},
"y":{"field":"y","type":"quantitative","scale":{"domain":[0,537],"nice":false,"zero":false},"axis":null},"detail":{"field":"c"}}},
{"data":{"name":"bars"},"transform":[{"filter":"datum.p==4"}],"mark":{"type":"rule","color":"black","strokeWidth":1.3},
"encoding":{"x":{"field":"x","type":"quantitative","scale":{"domain":[-9.5,188],"nice":false,"zero":false},"axis":{"orient":"top","values":[0,30,60,90,120,150,180],"labels":false,"tickSize":-5,"title":null}},"y":{"field":"lo","type":"quantitative","axis":null},"y2":{"field":"hi"}}},
{"data":{"name":"labels"},"transform":[{"filter":"datum.p==4"}],"mark":{"type":"text","fontSize":11.5,"fontWeight":"bold","font":"Liberation Sans"},
"encoding":{"x":{"field":"x","type":"quantitative","axis":null},"y":{"field":"y","type":"quantitative","axis":null},"text":{"field":"t"}}},
{"data":{"name":"levels"},"transform":[{"filter":"datum.p==4"}],"mark":{"type":"text","fontSize":10,"fontWeight":"bold","font":"Liberation Sans","align":"left","baseline":"middle"},
"encoding":{"x":{"datum":-8.5,"type":"quantitative","axis":null},"y":{"field":"y","type":"quantitative","axis":null},"text":{"field":"t"}}},
{"data":{"name":"levels"},"transform":[{"filter":"datum.p==4"}],"mark":{"type":"rule","color":"black","strokeWidth":1.2,"yOffset":6},
"encoding":{"x":{"datum":-9.5,"type":"quantitative","axis":null},"x2":{"datum":-0.5},"y":{"field":"y","type":"quantitative","axis":null}}}
]}
],
"config":{
"view":{"stroke":"black","strokeWidth":1.5},
"axis":{"domain":false,"grid":false,"tickColor":"black","tickWidth":1.3,"labelColor":"black","titleColor":"black","labelFont":"Liberation Sans","titleFont":"Liberation Sans"},
"text":{"font":"Liberation Sans","color":"black"}
}
}
